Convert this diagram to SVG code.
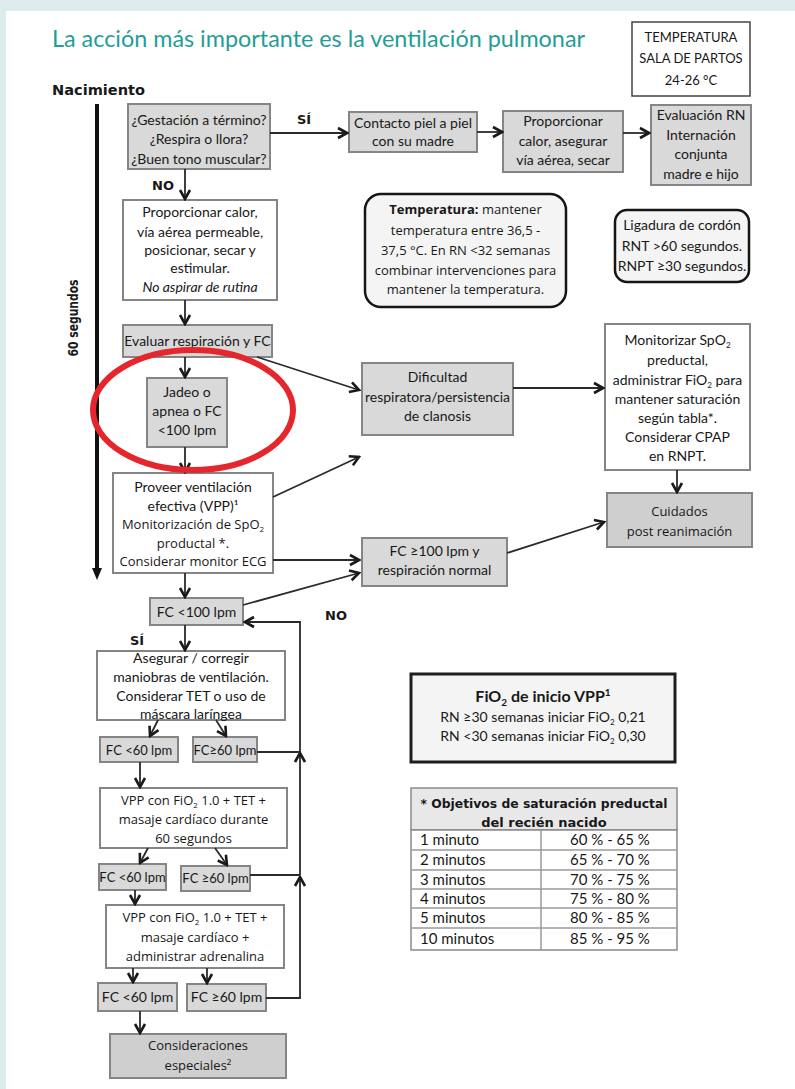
<svg xmlns="http://www.w3.org/2000/svg" width="795" height="1089" viewBox="0 0 795 1089">
<style>
.bg{fill:#dcecec}
.g{fill:#d9d9d9;stroke:#858585;stroke-width:2}
.gd{fill:#cfcfcf;stroke:#858585;stroke-width:2}
.w{fill:#ffffff;stroke:#858585;stroke-width:2}
.rb{fill:#f4f4f4;stroke:#151515;stroke-width:2.5}
text{font-family:Lato,"Liberation Sans",sans-serif;font-size:14px;fill:#181818}
.c{text-anchor:middle}
.o{font-family:"Open Sans","DejaVu Sans",sans-serif;font-size:13px}
.b{font-family:"DejaVu Sans",sans-serif;font-weight:bold;font-size:13px}
.sub{font-size:8px}
.con line,.con polyline{stroke:#2a2a2a;stroke-width:1.8;fill:none}
</style>
<defs>
<marker id="ah" markerUnits="userSpaceOnUse" markerWidth="14" markerHeight="14" viewBox="0 0 14 14" refX="12" refY="7" orient="auto">
<path d="M3,2 L12,7 L3,12" fill="none" stroke="#1a1a1a" stroke-width="2.6" stroke-linejoin="miter"/>
</marker>
</defs>
<rect width="795" height="1089" class="bg"/>
<rect x="6" y="11" width="789" height="1078" fill="#ffffff"/>

<text x="52" y="47" style="font-size:23px;fill:#1f9e97" textLength="533" lengthAdjust="spacingAndGlyphs">La acción más importante es la ventilación pulmonar</text>

<g id="temp-sala">
<rect x="632" y="22" width="118" height="74" fill="#fff" stroke="#444" stroke-width="1.5"/>
<text class="c" x="691" y="42" style="font-size:13px">TEMPERATURA</text>
<text class="c" x="691" y="63" style="font-size:13px">SALA DE PARTOS</text>
<text class="c" x="691" y="85" style="font-size:13px">24-26 °C</text>
</g>

<g id="timeline">
<text class="b" x="52" y="95" style="font-size:14px" textLength="93" lengthAdjust="spacingAndGlyphs">Nacimiento</text>
<line x1="97" y1="104" x2="97" y2="570" stroke="#111" stroke-width="4"/>
<path d="M92,568 L97,580 L102,568 Z" fill="#111"/>
<text class="b c" transform="translate(78,318) rotate(-90)" style="font-size:14px" textLength="77" lengthAdjust="spacingAndGlyphs">60 segundos</text>
</g>

<g id="n-preguntas">
<rect class="g" x="128" y="104" width="142" height="65"/>
<text class="c" x="199" y="125">¿Gestación a término?</text>
<text class="c" x="199" y="144">¿Respira o llora?</text>
<text class="c" x="199" y="164">¿Buen tono muscular?</text>
</g>
<g id="n-contacto">
<rect class="g" x="349" y="112" width="128" height="40"/>
<text class="c" x="413" y="128">Contacto piel a piel</text>
<text class="c" x="413" y="146">con su madre</text>
</g>
<g id="n-proporcionar1">
<rect class="g" x="503" y="111" width="120" height="61"/>
<text class="c" x="563" y="126">Proporcionar</text>
<text class="c" x="563" y="146">calor, asegurar</text>
<text class="c" x="563" y="165">vía aérea, secar</text>
</g>
<g id="n-evaluacion">
<rect class="g" x="651" y="105" width="100" height="80"/>
<text class="c" x="701" y="120">Evaluación RN</text>
<text class="c" x="701" y="140">Internación</text>
<text class="c" x="701" y="159">conjunta</text>
<text class="c" x="701" y="179">madre e hijo</text>
</g>
<g id="n-proporcionar2">
<rect class="w" x="123" y="200" width="154" height="100"/>
<text class="c" x="200" y="217">Proporcionar calor,</text>
<text class="c" x="200" y="237">vía aérea permeable,</text>
<text class="c" x="200" y="255">posicionar, secar y</text>
<text class="c" x="200" y="273">estimular.</text>
<text class="c" x="200" y="292" font-style="italic">No aspirar de rutina</text>
</g>
<g id="n-evaluar">
<rect class="g" x="123" y="325" width="149" height="32"/>
<text class="c" x="197.5" y="346">Evaluar respiración y FC</text>
</g>
<g id="n-jadeo">
<rect class="g" x="147" y="378" width="80" height="69"/>
<text class="c" x="187" y="397">Jadeo o</text>
<text class="c" x="187" y="416">apnea o FC</text>
<text class="c" x="187" y="435">&lt;100 lpm</text>
</g>
<g id="n-vpp">
<rect class="w" x="113" y="473" width="160" height="100"/>
<text class="c" x="193" y="492">Proveer ventilación</text>
<text class="c" x="193" y="511">efectiva (VPP)¹</text>
<text class="c o" x="193" y="529">Monitorización de SpO<tspan class="sub" dy="3">2</tspan></text>
<text class="c o" x="193" y="548">productal *.</text>
<text class="c o" x="193" y="566">Considerar monitor ECG</text>
</g>
<g id="n-dificultad">
<rect class="g" x="362" y="363" width="151" height="72"/>
<text class="c" x="437.5" y="382">Dificultad</text>
<text class="c" x="437.5" y="402">respiratora/persistencia</text>
<text class="c" x="437.5" y="421">de clanosis</text>
</g>
<g id="n-monitorizar">
<rect class="w" x="605" y="324" width="145" height="146"/>
<text class="c" x="677.5" y="345">Monitorizar SpO<tspan class="sub" dy="3">2</tspan></text>
<text class="c" x="677.5" y="365">preductal,</text>
<text class="c" x="677.5" y="385">administrar FiO<tspan class="sub" dy="3">2</tspan><tspan dy="-3"> para</tspan></text>
<text class="c" x="677.5" y="404">mantener saturación</text>
<text class="c" x="677.5" y="423">según tabla*.</text>
<text class="c" x="677.5" y="442">Considerar CPAP</text>
<text class="c" x="677.5" y="461">en RNPT.</text>
</g>
<g id="n-cuidados">
<rect class="gd" x="607" y="493" width="145" height="54"/>
<text class="c o" x="679.5" y="516">Cuidados</text>
<text class="c o" x="679.5" y="536">post reanimación</text>
</g>
<g id="n-fc100ok">
<rect class="g" x="362" y="538" width="145" height="48"/>
<text class="c" x="434.5" y="556">FC ≥100 lpm y</text>
<text class="c" x="434.5" y="575">respiración normal</text>
</g>
<g id="n-fc100">
<rect class="g" x="150" y="598" width="93" height="27"/>
<text class="c" x="196.5" y="617">FC &lt;100 lpm</text>
</g>
<g id="n-asegurar">
<rect class="w" x="97" y="651" width="188" height="69"/>
<text class="c" x="191" y="663">Asegurar / corregir</text>
<text class="c" x="191" y="682">maniobras de ventilación.</text>
<text class="c" x="191" y="701">Considerar TET o uso de</text>
<text class="c" x="191" y="719">máscara laríngea</text>
</g>
<g id="n-fc60a">
<rect class="g" x="100" y="737" width="78" height="25"/>
<text class="c" x="139" y="755" style="font-size:13px">FC &lt;60 lpm</text>
</g>
<g id="n-fc60b">
<rect class="g" x="193" y="737" width="64" height="25"/>
<text class="c" x="225" y="755" style="font-size:13px">FC≥60 lpm</text>
</g>
<g id="n-masaje1">
<rect class="w" x="100" y="788" width="187" height="60"/>
<text class="c o" x="193.5" y="805">VPP con FiO<tspan class="sub" dy="3">2</tspan><tspan dy="-3"> 1.0 + TET +</tspan></text>
<text class="c o" x="193.5" y="824">masaje cardíaco durante</text>
<text class="c o" x="193.5" y="843">60 segundos</text>
</g>
<g id="n-fc60c">
<rect class="g" x="99" y="864" width="67" height="26"/>
<text class="c" x="132.5" y="882" style="font-size:13px">FC &lt;60 lpm</text>
</g>
<g id="n-fc60d">
<rect class="g" x="181" y="866" width="69" height="25"/>
<text class="c" x="215.5" y="883" style="font-size:13px">FC ≥60 lpm</text>
</g>
<g id="n-masaje2">
<rect class="w" x="106" y="905" width="178" height="63"/>
<text class="c o" x="195" y="922">VPP con FiO<tspan class="sub" dy="3">2</tspan><tspan dy="-3"> 1.0 + TET +</tspan></text>
<text class="c o" x="195" y="942">masaje cardíaco +</text>
<text class="c o" x="195" y="961">administrar adrenalina</text>
</g>
<g id="n-fc60e">
<rect class="g" x="98" y="983" width="79" height="28"/>
<text class="c" x="137.5" y="1002">FC &lt;60 lpm</text>
</g>
<g id="n-fc60f">
<rect class="g" x="187" y="984" width="79" height="27"/>
<text class="c" x="226.5" y="1002">FC ≥60 lpm</text>
</g>
<g id="n-consideraciones">
<rect class="gd" x="110" y="1034" width="176" height="44"/>
<text class="c o" x="198" y="1050">Consideraciones</text>
<text class="c o" x="198" y="1070">especiales²</text>
</g>

<g id="n-temperatura">
<rect class="rb" x="365" y="194" width="201" height="113" rx="16"/>
<text class="c o" x="465.5" y="214"><tspan font-weight="bold">Temperatura:</tspan> mantener</text>
<text class="c o" x="465.5" y="235">temperatura entre 36,5 -</text>
<text class="c o" x="465.5" y="255">37,5 °C. En RN &lt;32 semanas</text>
<text class="c o" x="465.5" y="275">combinar intervenciones para</text>
<text class="c o" x="465.5" y="294">mantener la temperatura.</text>
</g>
<g id="n-ligadura">
<rect class="rb" x="615" y="210" width="134" height="72" rx="12"/>
<text class="c" x="682" y="230">Ligadura de cordón</text>
<text class="c" x="682" y="251">RNT &gt;60 segundos.</text>
<text class="c" x="682" y="271">RNPT ≥30 segundos.</text>
</g>

<g id="n-fio2">
<rect x="411" y="674" width="264" height="88" fill="#f4f4f4" stroke="#1e1e1e" stroke-width="3"/>
<text class="c" x="543" y="702" style="font-size:16px;font-weight:bold">FiO<tspan dy="4" style="font-size:10px">2</tspan><tspan dy="-4"> de inicio VPP</tspan><tspan dy="-6" style="font-size:10px">1</tspan></text>
<text class="c" x="543" y="722">RN ≥30 semanas iniciar FiO<tspan class="sub" dy="3">2</tspan><tspan dy="-3"> 0,21</tspan></text>
<text class="c" x="543" y="741">RN &lt;30 semanas iniciar FiO<tspan class="sub" dy="3">2</tspan><tspan dy="-3"> 0,30</tspan></text>
</g>

<g id="n-tabla">
<rect x="411" y="788" width="266" height="42" fill="#e8e8e8" stroke="#8a8a8a" stroke-width="1.5"/>
<rect x="411" y="830" width="266" height="120" fill="#ffffff" stroke="#8a8a8a" stroke-width="1.5"/>
<g stroke="#9a9a9a" stroke-width="1.5">
<line x1="411" y1="850" x2="677" y2="850"/>
<line x1="411" y1="870" x2="677" y2="870"/>
<line x1="411" y1="889" x2="677" y2="889"/>
<line x1="411" y1="908" x2="677" y2="908"/>
<line x1="411" y1="928" x2="677" y2="928"/>
<line x1="541" y1="830" x2="541" y2="950"/>
</g>
<text class="b c" x="544" y="808" textLength="247" lengthAdjust="spacingAndGlyphs">* Objetivos de saturación preductal</text>
<text class="b c" x="544" y="827">del recién nacido</text>
<text x="420" y="845" style="font-size:15px">1 minuto</text>
<text x="420" y="865" style="font-size:15px">2 minutos</text>
<text x="420" y="885" style="font-size:15px">3 minutos</text>
<text x="420" y="904" style="font-size:15px">4 minutos</text>
<text x="420" y="923" style="font-size:15px">5 minutos</text>
<text x="420" y="944" style="font-size:15px">10 minutos</text>
<text class="c" x="610" y="845" style="font-size:15px">60 % - 65 %</text>
<text class="c" x="610" y="865" style="font-size:15px">65 % - 70 %</text>
<text class="c" x="610" y="885" style="font-size:15px">70 % - 75 %</text>
<text class="c" x="610" y="904" style="font-size:15px">75 % - 80 %</text>
<text class="c" x="610" y="923" style="font-size:15px">80 % - 85 %</text>
<text class="c" x="610" y="944" style="font-size:15px">85 % - 95 %</text>
</g>

<g id="connectors" class="con">
<line x1="270" y1="133" x2="347" y2="133" marker-end="url(#ah)"/>
<line x1="477" y1="132" x2="502" y2="132" marker-end="url(#ah)"/>
<line x1="623" y1="133" x2="649" y2="133" marker-end="url(#ah)"/>
<line x1="185" y1="169" x2="185" y2="199" marker-end="url(#ah)"/>
<line x1="185" y1="300" x2="185" y2="324" marker-end="url(#ah)"/>
<line x1="185" y1="357" x2="185" y2="377" marker-end="url(#ah)"/>
<line x1="257" y1="357" x2="359" y2="390" marker-end="url(#ah)"/>
<line x1="185" y1="447" x2="185" y2="472" marker-end="url(#ah)"/>
<line x1="273" y1="497" x2="359" y2="457" marker-end="url(#ah)"/>
<line x1="513" y1="388" x2="603" y2="388" marker-end="url(#ah)"/>
<line x1="677" y1="470" x2="677" y2="492" marker-end="url(#ah)"/>
<line x1="273" y1="560" x2="359" y2="560" marker-end="url(#ah)"/>
<line x1="243" y1="605" x2="359" y2="573" marker-end="url(#ah)"/>
<line x1="507" y1="553" x2="604" y2="522" marker-end="url(#ah)"/>
<line x1="185" y1="573" x2="185" y2="597" marker-end="url(#ah)"/>
<line x1="185" y1="625" x2="185" y2="650" marker-end="url(#ah)"/>
<polyline points="266,998 300,998 300,877" marker-end="url(#ah)"/>
<polyline points="250,875 300,875"/>
<line x1="300" y1="875" x2="300" y2="753" marker-end="url(#ah)"/>
<polyline points="257,752 300,752"/>
<polyline points="300,752 300,622 245,622" marker-end="url(#ah)"/>
<line x1="158" y1="720" x2="150" y2="736" marker-end="url(#ah)"/>
<line x1="216" y1="720" x2="226" y2="736" marker-end="url(#ah)"/>
<line x1="140" y1="762" x2="140" y2="787" marker-end="url(#ah)"/>
<line x1="148" y1="848" x2="140" y2="863" marker-end="url(#ah)"/>
<line x1="215" y1="848" x2="227" y2="865" marker-end="url(#ah)"/>
<line x1="135" y1="890" x2="135" y2="904" marker-end="url(#ah)"/>
<line x1="133" y1="968" x2="133" y2="982" marker-end="url(#ah)"/>
<line x1="207" y1="968" x2="207" y2="983" marker-end="url(#ah)"/>
<line x1="140" y1="1011" x2="140" y2="1033" marker-end="url(#ah)"/>
</g>
<g id="labels">
<text class="b" x="297" y="124">SÍ</text>
<text class="b" x="152" y="190">NO</text>
<text class="b" x="130" y="645">SÍ</text>
<text class="b" x="325" y="620">NO</text>
</g>

<ellipse id="highlight" cx="193" cy="410" rx="100" ry="60" fill="none" stroke="#e5262c" stroke-width="6"/>
</svg>
